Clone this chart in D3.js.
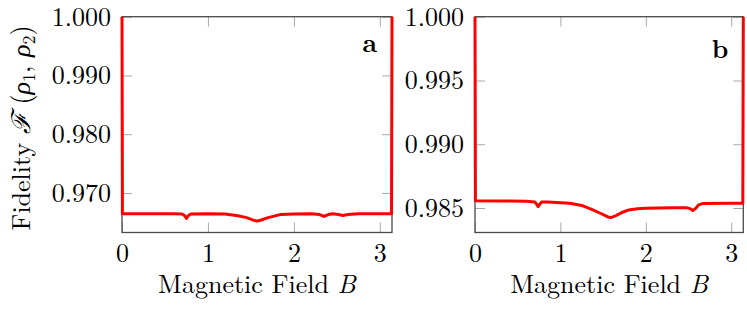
<!DOCTYPE html>
<html>
<head>
<meta charset="utf-8">
<script src="https://cdn.jsdelivr.net/npm/d3@7"></script>
<style>
  body { margin: 0; background: #fff; }
</style>
</head>
<body>
<div id="chart"></div>
<script>
// magnetic field values (x) and fidelity
var fieldA = [0, 0.005, 0.3, 0.6, 0.70, 0.73, 0.75, 0.77, 0.80, 1.0, 1.2, 1.35, 1.45, 1.52, 1.57, 1.62, 1.7, 1.84, 2.0, 2.2, 2.3, 2.35, 2.40, 2.45, 2.52, 2.57, 2.63, 2.75, 3.1, 3.136, 3.1416];
var fidelityA = [1.0, 0.96647, 0.96647, 0.96645, 0.96640, 0.96612, 0.96566, 0.96612, 0.96640, 0.96645, 0.96640, 0.96612, 0.96580, 0.96542, 0.96520, 0.96540, 0.96580, 0.96632, 0.96642, 0.96645, 0.96632, 0.96600, 0.96632, 0.96647, 0.96632, 0.96616, 0.96632, 0.96645, 0.96647, 0.96647, 1.0];

var fieldB = [0, 0.005, 0.3, 0.6, 0.70, 0.72, 0.74, 0.76, 0.78, 0.85, 1.11, 1.25, 1.38, 1.48, 1.55, 1.59, 1.65, 1.72, 1.80, 1.90, 2.0, 2.3, 2.47, 2.52, 2.55, 2.58, 2.62, 2.67, 3.0, 3.136, 3.1416];
var fidelityB = [1.0, 0.98556, 0.98555, 0.98553, 0.98548, 0.98530, 0.98511, 0.98530, 0.98548, 0.98548, 0.98538, 0.98520, 0.98485, 0.98455, 0.98432, 0.98425, 0.98440, 0.98465, 0.98485, 0.98495, 0.98499, 0.98503, 0.98503, 0.98495, 0.98480, 0.98495, 0.98525, 0.98536, 0.98538, 0.98538, 1.0];

var xTicks = [0, 1, 2, 3];
var yTicksA = [0.970, 0.980, 0.990, 1.000];
var yTicksB = [0.985, 0.990, 0.995, 1.000];

var W = 747, H = 310;
var FONT = "'Latin Modern Roman', 'Liberation Serif', serif";
var fontSize = 26;

var svg = d3.select("#chart").append("svg")
  .attr("width", W)
  .attr("height", H)
  .style("font-family", FONT);

function panel(opts) {
  var w = opts.right - opts.left,
      h = opts.bottom - opts.top;
  var g = svg.append("g")
    .attr("transform", "translate(" + opts.left + "," + opts.top + ")");

  var x = d3.scaleLinear().domain([0, Math.PI]).range([0, w]);
  var y = d3.scaleLinear().domain(opts.yDomain).range([h, 0]);

  // ticks on all four sides, pointing inward
  var axes = [
    { ax: d3.axisBottom(x).tickValues(xTicks).tickFormat(d3.format("d")), t: "translate(0," + h + ")", labels: true },
    { ax: d3.axisTop(x).tickValues(xTicks), t: null, labels: false },
    { ax: d3.axisLeft(y).tickValues(opts.yTicks).tickFormat(d3.format(".3f")), t: null, labels: true },
    { ax: d3.axisRight(y).tickValues(opts.yTicks), t: "translate(" + w + ",0)", labels: false }
  ];
  axes.forEach(function(a) {
    var ag = g.append("g")
      .call(a.ax.tickSize(-10).tickPadding(11));
    if (a.t) ag.attr("transform", a.t);
    ag.attr("font-family", null).attr("font-size", null);
    ag.select(".domain").remove();
    ag.selectAll(".tick line").attr("stroke", "#a8a8a8").attr("stroke-width", 1);
    if (a.labels) {
      ag.selectAll(".tick text")
        .attr("fill", "#000")
        .style("font-size", fontSize + "px")
        .style("font-family", FONT);
    } else {
      ag.selectAll(".tick text").remove();
    }
  });

  // frame
  g.append("rect")
    .attr("width", w)
    .attr("height", h)
    .attr("fill", "none")
    .attr("stroke", "#4a4a4a")
    .attr("stroke-width", 1.3);

  var line = d3.line()
    .x(function(d) { return x(d[0]); })
    .y(function(d) { return y(d[1]); });

  var pts = opts.xs.map(function(v, i) { return [v, opts.ys[i]]; });
  g.append("path")
    .datum(pts)
    .attr("d", line)
    .attr("fill", "none")
    .attr("stroke", "#ff0000")
    .attr("stroke-width", 3)
    .attr("stroke-linejoin", "round");

  // panel letter
  g.append("text")
    .attr("x", w - 15)
    .attr("y", opts.letterY)
    .attr("text-anchor", "end")
    .style("font-family", FONT)
    .style("font-size", fontSize + "px")
    .style("font-weight", "bold")
    .text(opts.letter);

  // x label
  var xl = g.append("text")
    .attr("x", w / 2)
    .attr("y", h + 61)
    .attr("text-anchor", "middle")
    .style("font-family", FONT)
    .style("font-size", fontSize + "px");
  xl.append("tspan").text("Magnetic Field ");
  xl.append("tspan").style("font-style", "italic").text("B");

  return g;
}

panel({ left: 122, right: 392, top: 16.7, bottom: 232.5, yDomain: [0.96327, 1.0], yTicks: yTicksA,
        xs: fieldA, ys: fidelityA, letter: "a", letterY: 35 });
panel({ left: 475, right: 743.3, top: 16.7, bottom: 232.5, yDomain: [0.98308, 1.0], yTicks: yTicksB,
        xs: fieldB, ys: fidelityB, letter: "b", letterY: 41.5 });

// y axis label
var yl = svg.append("text")
  .attr("transform", "translate(30," + 128 + ") rotate(-90)")
  .attr("text-anchor", "middle")
  .style("font-family", FONT)
  .style("font-size", fontSize + "px");
yl.append("tspan").text("Fidelity ");
yl.append("tspan").style("font-style", "italic").text("\u2131");
yl.append("tspan").text(" (");
yl.append("tspan").style("font-style", "italic").text("\u03C1");
yl.append("tspan").attr("dy", 5).style("font-size", "18px").text("1");
yl.append("tspan").attr("dy", -5).text(", ");
yl.append("tspan").style("font-style", "italic").text("\u03C1");
yl.append("tspan").attr("dy", 5).style("font-size", "18px").text("2");
yl.append("tspan").attr("dy", -5).text(")");
</script>
</body>
</html>
